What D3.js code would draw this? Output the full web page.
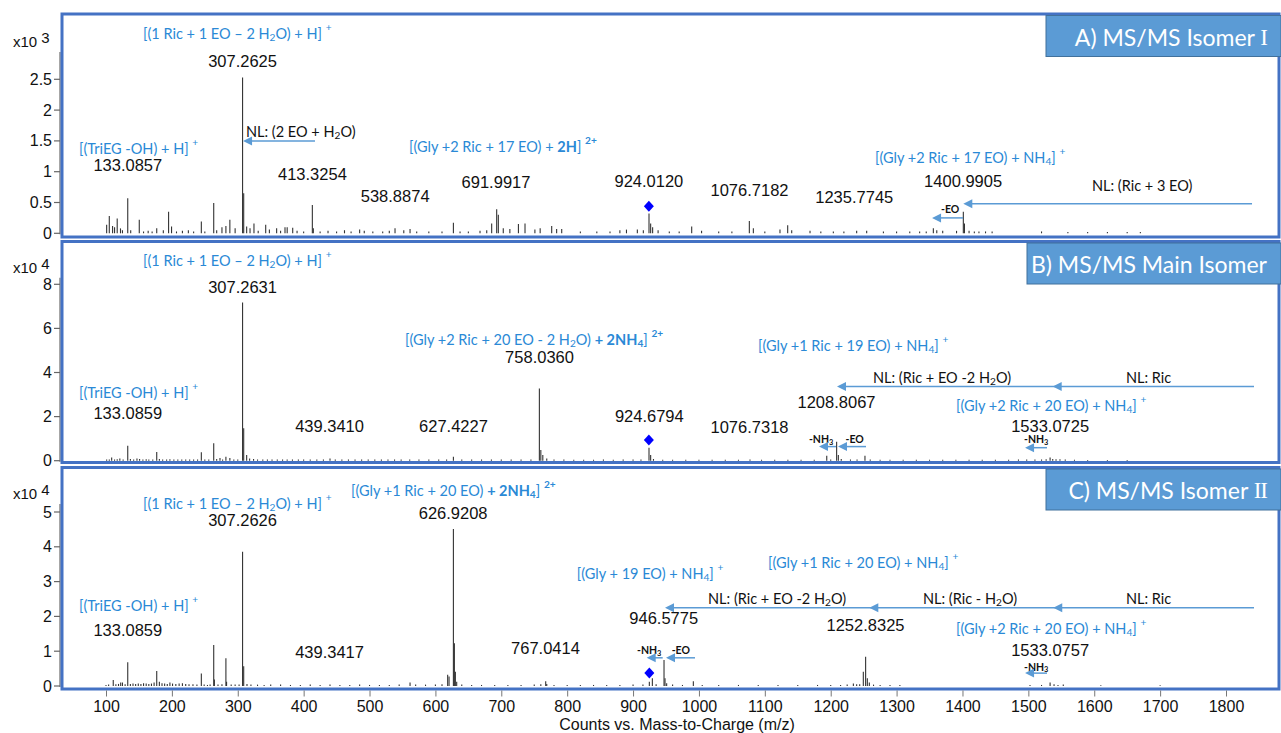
<!DOCTYPE html>
<html lang="en">
<head>
<meta charset="UTF-8">
<title>MS/MS spectra</title>
<script src="https://d3js.org/d3.v7.min.js"></script>
<style>
  body { margin: 0; background: #fff; }
  svg { display: block; }
</style>
</head>
<body>
<div id="chart"></div>
<script>
// peaks as [m/z, intensity]; A in x10^3 counts, B and C in x10^4 counts
const peaksA = [[101,0.14],[105,0.28],[110,0.12],[113,0.1],[117,0.24],[122,0.08],[125,0.05],[133,0.57],[137.5,0.05],[150.5,0.22],[157,0.03],[164,0.04],[170,0.03],[177,0.08],[187,0.05],[195,0.35],[199.5,0.11],[207,0.03],[216,0.04],[225,0.05],[233,0.03],[244.7,0.19],[250,0.03],[263.5,0.49],[268,0.05],[276,0.1],[282,0.12],[288,0.22],[296,0.08],[307.3,2.53],[309,0.65],[313.5,0.11],[318.6,0.08],[324.6,0.16],[331,0.04],[342.4,0.14],[348,0.06],[359,0.08],[365,0.04],[371.7,0.1],[375,0.1],[383.4,0.09],[390,0.04],[400,0.03],[413.2,0.46],[414.7,0.08],[425,0.03],[437,0.04],[450,0.03],[462,0.05],[472,0.03],[485,0.06],[492,0.04],[505,0.03],[520,0.03],[530,0.04],[538.7,0.08],[552,0.05],[561.5,0.07],[571.6,0.03],[590,0.03],[610,0.03],[627.3,0.17],[637.4,0.03],[650,0.03],[667.7,0.04],[677.9,0.05],[685.4,0.16],[693,0.39],[695.5,0.3],[703,0.08],[713,0.07],[726,0.15],[736,0.16],[751,0.06],[759,0.08],[776.5,0.12],[784,0.07],[791.7,0.07],[820,0.03],[845,0.03],[865,0.03],[880,0.05],[890,0.06],[906.5,0.06],[915.6,0.05],[924.2,0.32],[926.7,0.16],[929.7,0.1],[938,0.05],[955,0.03],[970,0.03],[989,0.11],[1004,0.04],[1030,0.03],[1050,0.03],[1076.5,0.2],[1082.6,0.08],[1100,0.03],[1123,0.06],[1134.7,0.13],[1140.8,0.05],[1168.6,0.04],[1185,0.03],[1204,0.03],[1220,0.03],[1239.4,0.04],[1254.6,0.04],[1280,0.03],[1300,0.03],[1320,0.03],[1335,0.03],[1345,0.03],[1355.8,0.08],[1361,0.05],[1370,0.04],[1391,0.04],[1401.3,0.35],[1403,0.16],[1410,0.04],[1418,0.03],[1425,0.03],[1435,0.03],[1445,0.03],[1520,0.03],[1560,0.02],[1590,0.02],[1620,0.02],[1650,0.02],[1670,0.02]];

const peaksB = [[101,0.05],[105,0.06],[108.6,0.14],[113,0.06],[117,0.07],[121,0.1],[126,0.05],[133,0.68],[137,0.08],[142,0.06],[147,0.1],[151,0.08],[156,0.06],[161,0.07],[165,0.05],[171,0.06],[177,0.4],[181,0.08],[186,0.06],[192,0.05],[197,0.07],[203,0.05],[209,0.06],[215,0.05],[221,0.06],[227,0.05],[233,0.06],[239,0.05],[244.7,0.38],[250,0.06],[256,0.05],[263.5,0.79],[268,0.08],[273,0.12],[277,0.06],[282,0.18],[288,0.12],[294,0.06],[300,0.05],[307.3,7.18],[309,1.47],[313.5,0.26],[318,0.1],[324,0.08],[330,0.06],[338,0.06],[345,0.05],[352,0.06],[360,0.05],[368,0.05],[375,0.06],[383,0.05],[392,0.05],[400,0.06],[410,0.05],[420,0.05],[430,0.06],[440,0.1],[448,0.05],[458,0.05],[468,0.05],[478,0.06],[488,0.05],[498,0.05],[508,0.05],[518,0.06],[528,0.05],[538,0.05],[548,0.05],[561,0.06],[575,0.05],[590,0.05],[605,0.05],[617,0.06],[627.3,0.18],[640,0.05],[655,0.05],[670,0.05],[685,0.05],[700,0.05],[715,0.05],[730,0.05],[745,0.06],[757.8,3.28],[760,0.48],[763,0.26],[769,0.1],[780,0.05],[795,0.05],[810,0.04],[825,0.04],[840,0.04],[855,0.05],[870,0.04],[885,0.05],[900,0.05],[912,0.06],[924.2,0.59],[926.7,0.26],[931,0.08],[945,0.04],[960,0.04],[980,0.04],[1000,0.04],[1020,0.04],[1040,0.04],[1060,0.04],[1077.5,0.05],[1095,0.04],[1115,0.04],[1135,0.04],[1155,0.04],[1175,0.04],[1194,0.23],[1200,0.05],[1209,0.86],[1211.6,0.26],[1216,0.08],[1230,0.05],[1240,0.05],[1252,0.23],[1260,0.05],[1275,0.04],[1290,0.04],[1310,0.04],[1330,0.04],[1350,0.04],[1370,0.04],[1390,0.04],[1410,0.04],[1430,0.04],[1450,0.04],[1470,0.04],[1485,0.05],[1497.5,0.06],[1510,0.05],[1520,0.06],[1527,0.07],[1533,0.14],[1537,0.08],[1542,0.07],[1548,0.07],[1556,0.05],[1570,0.04],[1590,0.03],[1620,0.03],[1650,0.03]];

const peaksC = [[100,0.03],[104,0.04],[111,0.17],[115,0.05],[119,0.06],[122.3,0.1],[125,0.1],[129,0.05],[133,0.68],[137,0.06],[141,0.07],[145,0.06],[149,0.07],[153,0.06],[157,0.08],[161,0.07],[165,0.06],[169,0.07],[173,0.1],[177,0.43],[181,0.12],[185,0.08],[189,0.07],[193,0.06],[197,0.1],[201,0.07],[206,0.06],[211,0.07],[216,0.08],[221,0.06],[226,0.05],[232,0.05],[238,0.04],[244.7,0.36],[249,0.04],[254,0.03],[258,0.04],[263.5,1.18],[264.5,0.19],[270,0.04],[276,0.05],[282,0.8],[283,0.12],[290,0.04],[296,0.04],[302,0.04],[307.3,3.86],[309,0.57],[314,0.06],[320,0.04],[330,0.04],[340,0.03],[350,0.04],[365,0.04],[380,0.03],[395,0.03],[410,0.04],[425,0.03],[440,0.04],[455,0.03],[470,0.03],[485,0.04],[500,0.03],[515,0.03],[530,0.03],[545,0.04],[561.5,0.1],[570,0.04],[585,0.04],[600,0.04],[610,0.05],[618.6,0.32],[620.7,0.27],[627.3,4.51],[628.8,1.23],[630.3,0.41],[632.3,0.12],[640,0.04],[655,0.03],[670,0.03],[690,0.03],[710,0.03],[730,0.03],[750,0.04],[760,0.05],[767.4,0.14],[769,0.06],[780,0.03],[800,0.03],[820,0.03],[840,0.03],[860,0.03],[880,0.03],[900,0.04],[915,0.04],[924.7,0.12],[929.3,0.22],[935,0.05],[947,0.75],[948.5,0.22],[951,0.08],[960,0.04],[975,0.03],[991.5,0.14],[1005,0.03],[1030,0.03],[1060,0.03],[1090,0.03],[1120,0.03],[1150,0.03],[1180,0.03],[1200,0.03],[1215,0.03],[1225,0.04],[1234.4,0.07],[1239.4,0.05],[1244,0.05],[1249.5,0.41],[1253,0.84],[1255.6,0.22],[1258.6,0.1],[1265,0.04],[1275,0.03],[1290,0.03],[1305,0.03],[1502.5,0.03],[1520,0.03],[1533,0.1],[1539,0.05],[1545,0.03],[1553,0.04],[1610,0.02],[1700,0.02]];

const xTicks = [100,200,300,400,500,600,700,800,900,1000,1100,1200,1300,1400,1500,1600,1700,1800];
const yTicksA = [0, 0.5, 1, 1.5, 2, 2.5];
const yTicksB = [0, 2, 4, 6, 8];
const yTicksC = [0, 1, 2, 3, 4, 5];
const exponents = [3, 4, 4];
// panel titles: [text, roman numeral]
const panelTitles = [["A) MS/MS Isomer ", "I"], ["B) MS/MS Main Isomer", ""], ["C) MS/MS Isomer ", "II"]];
const xTitle = "Counts vs. Mass-to-Charge (m/z)";

// peak m/z labels: [label, intensity where label sits]
const peakLabelsA = [["307.2625",2.80],["133.0857",1.11],["413.3254",0.96],["538.8874",0.61],["691.9917",0.83],["924.0120",0.85],["1076.7182",0.70],["1235.7745",0.59],["1400.9905",0.85]];
const peakLabelsB = [["307.2631",7.89],["133.0859",2.15],["439.3410",1.59],["627.4227",1.59],["758.0360",4.72],["924.6794",2.03],["1076.7318",1.52],["1208.8067",2.68],["1533.0725",1.59]];
const peakLabelsC = [["307.2626",4.77],["133.0859",1.61],["439.3417",0.97],["626.9208",4.96],["767.0414",1.08],["946.5775",1.95],["1252.8325",1.75],["1533.0757",1.03]];

// ion assignments (blue): [text, m/z at left edge, intensity]
const ionLabelsA = [["[(1 Ric + 1 EO \u2013 2 H_{2}O) + H] ^{+}",156.2,3.25],["[(TriEG -OH) + H] ^{+}",59,1.385],["[(Gly +2 Ric + 17 EO) + *{2H}] *^{2+}",560,1.42],["[(Gly +2 Ric + 17 EO) + NH_{4}] ^{+}",1267.3,1.24]];
const ionLabelsB = [["[(1 Ric + 1 EO \u2013 2 H_{2}O) + H] ^{+}",156.2,9.10],["[(TriEG -OH) + H] ^{+}",59,3.13],["[(Gly +2 Ric + 20 EO - 2 H_{2}O) *{+ 2NH}*_{4}] *^{2+}",553.9,5.52],["[(Gly +1 Ric + 19 EO) + NH_{4}] ^{+}",1089.7,5.25],["[(Gly +2 Ric + 20 EO) + NH_{4}] ^{+}",1390.2,2.53]];
const ionLabelsC = [["[(1 Ric + 1 EO \u2013 2 H_{2}O) + H] ^{+}",156.2,5.25],["[(TriEG -OH) + H] ^{+}",59,2.33],["[(Gly +1 Ric + 20 EO) *{+ 2NH}*_{4}] *^{2+}",471.9,5.63],["[(Gly + 19 EO) + NH_{4}] ^{+}",814.5,3.24],["[(Gly +1 Ric + 20 EO) + NH_{4}] ^{+}",1104.8,3.57],["[(Gly +2 Ric + 20 EO) + NH_{4}] ^{+}",1390.2,1.66]];

// neutral losses (black): [text, m/z at left edge, intensity, small bold]
const lossLabelsA = [["NL: (2 EO + H_{2}O)",312.5,1.66,false],["NL: (Ric + 3 EO)",1596.6,0.78,false],["-EO",1367.4,0.40,true]];
const lossLabelsB = [["NL: (Ric + EO -2 H_{2}O)",1264.2,3.81,false],["NL: Ric",1648.2,3.81,false],["-NH_{3}",1167,0.98,true],["-EO",1222.5,0.98,true],["-NH_{3}",1493.4,0.98,true]];
const lossLabelsC = [["NL: (Ric + EO -2 H_{2}O)",1013.8,2.52,false],["NL: (Ric - H_{2}O)",1340.1,2.54,false],["NL: Ric",1648.2,2.54,false],["-NH_{3}",906,1.03,true],["-EO",958.6,1.03,true],["-NH_{3}",1493.4,0.56,true]];

// arrows: [from m/z, to m/z, intensity, arrowhead m/z list]
const arrowsA = [[417.2,308,1.50,[308]],[1839.5,1401.3,0.48,[1401.3]],[1400.9,1353.8,0.25,[1353.8]]];
const arrowsB = [[1842.5,1209.6,3.36,[1209.6,1536.9]],[1208,1182.2,0.64,[1182.2]],[1253.6,1211.1,0.64,[1211.1]],[1528.3,1495,0.59,[1495]]];
const arrowsC = [[1842.5,948.5,2.25,[948.5,1258.6,1537.8]],[945,920.7,0.81,[920.7]],[994,950,0.81,[950]],[1528.3,1495,0.37,[1495]]];

// precursor markers: [m/z, intensity]
const markersA = [[924.0, 0.44]];
const markersB = [[924.0, 0.94]];
const markersC = [[924.7, 0.37]];

const W = 1281, H = 733;
const BLUE_TXT = "#2a89d6", BLUE_ARROW = "#5b9bd5", FRAME = "#4472c4";
const SANS = "'Liberation Sans', Arial, sans-serif";
const CAL = "Lato, 'Open Sans', sans-serif";

const svg = d3.select("#chart").append("svg").attr("width", W).attr("height", H);

const x = d3.scaleLinear().domain([100, 1800]).range([106, 1226]);

const panels = [
  { peaks: peaksA, ticks: yTicksA, top: 14, bottom: 237, range: [233.3, 79.3], axisTop: 52, titleX: 1046,
    peakLabels: peakLabelsA, ions: ionLabelsA, losses: lossLabelsA, arrows: arrowsA, markers: markersA },
  { peaks: peaksB, ticks: yTicksB, top: 241.5, bottom: 462.5, range: [460.7, 284.3], axisTop: 277.7, titleX: 1027,
    peakLabels: peakLabelsB, ions: ionLabelsB, losses: lossLabelsB, arrows: arrowsB, markers: markersB },
  { peaks: peaksC, ticks: yTicksC, top: 467.5, bottom: 689, range: [686, 512], axisTop: 504, titleX: 1046,
    peakLabels: peakLabelsC, ions: ionLabelsC, losses: lossLabelsC, arrows: arrowsC, markers: markersC }
];

// tiny markup: _{sub} ^{sup} *{bold} *_{bold sub} *^{bold sup}
function rich(textSel, str, fs) {
  const re = /(\*?[_^]\{[^}]*\}|\*\{[^}]*\}|[^*_^]+)/g;
  let m, shift = 0;
  while ((m = re.exec(str))) {
    let tok = m[0], bold = false, target = 0, small = false;
    if (tok[0] === "*") { bold = true; tok = tok.slice(1); }
    if (tok[0] === "_") { target = 0.28 * fs; small = true; }
    else if (tok[0] === "^") { target = -0.42 * fs; small = true; }
    const txt = tok.replace(/^[_^]?\{/, "").replace(/\}$/, "");
    const ts = textSel.append("tspan").text(txt).attr("dy", target - shift);
    shift = target;
    if (bold) ts.attr("font-weight", "bold");
    if (small) ts.attr("font-size", fs * 0.7);
  }
}

panels.forEach((p, i) => {
  const y = d3.scaleLinear().domain([0, p.ticks[p.ticks.length - 1]]).range(p.range);
  const g = svg.append("g");
  const clipId = "clip" + i;
  svg.append("clipPath").attr("id", clipId).append("rect")
    .attr("x", 62).attr("y", p.top).attr("width", 1217).attr("height", p.bottom - p.top);

  // peaks
  g.append("g").attr("clip-path", `url(#${clipId})`)
    .selectAll("line").data(p.peaks).join("line")
    .attr("x1", d => x(d[0])).attr("x2", d => x(d[0]))
    .attr("y1", y(0)).attr("y2", d => y(d[1]))
    .attr("stroke", "#333").attr("stroke-width", 1.1);

  // y axis
  g.append("line").attr("x1", 60).attr("x2", 60).attr("y1", p.axisTop).attr("y2", y(0) + 1)
    .attr("stroke", "#a6a6a6").attr("stroke-width", 2);
  const ty = g.selectAll(".yt").data(p.ticks).join("g").attr("transform", d => `translate(0,${y(d)})`);
  ty.append("line").attr("x1", 54).attr("x2", 60).attr("stroke", "#666").attr("stroke-width", 1.2);
  ty.append("text").attr("x", 52).attr("text-anchor", "end").attr("dominant-baseline", "central")
    .attr("font-family", SANS).attr("font-size", 16).attr("fill", "#111").text(d => d);

  // exponent
  const ex = g.append("text").attr("x", 13).attr("y", p.axisTop - 11).attr("font-family", SANS)
    .attr("font-size", 15).attr("fill", "#111").attr("dominant-baseline", "central");
  ex.append("tspan").text("x10 ");
  ex.append("tspan").text(exponents[i]).attr("dy", -4);

  // frame
  g.append("rect").attr("x", 62).attr("y", p.top).attr("width", 1217).attr("height", p.bottom - p.top)
    .attr("fill", "none").attr("stroke", FRAME).attr("stroke-width", 3);

  // title box
  g.append("rect").attr("x", p.titleX).attr("y", p.top + 1.5).attr("width", W - p.titleX).attr("height", 41)
    .attr("fill", "#5b9bd5").attr("stroke", "#41719c").attr("stroke-width", 1);
  const tt = g.append("text").attr("x", W - 14).attr("y", p.top + 22.5).attr("text-anchor", "end")
    .attr("dominant-baseline", "central").attr("font-family", CAL).attr("font-size", 23)
    .attr("fill", "#fff");
  tt.append("tspan").text(panelTitles[i][0]);
  if (panelTitles[i][1]) {
    tt.append("tspan").text(panelTitles[i][1]).attr("font-family", "'Liberation Serif', serif")
      .attr("letter-spacing", -1);
  }

  // peak labels
  g.selectAll(".pl").data(p.peakLabels).join("text")
    .attr("x", d => x(+d[0])).attr("y", d => y(d[1])).attr("text-anchor", "middle")
    .attr("dominant-baseline", "central").attr("font-family", SANS).attr("font-size", 16.5)
    .attr("fill", "#111").text(d => d[0]);

  // ion labels
  p.ions.forEach(d => {
    const t = g.append("text").attr("x", x(d[1])).attr("y", y(d[2])).attr("dominant-baseline", "central")
      .attr("font-family", CAL).attr("font-size", 14.5).attr("fill", BLUE_TXT);
    rich(t, d[0], 14.5);
  });

  // loss labels
  p.losses.forEach(d => {
    const fs = d[3] ? 10.5 : 14.5;
    const t = g.append("text").attr("x", x(d[1])).attr("y", y(d[2])).attr("dominant-baseline", "central")
      .attr("font-family", CAL).attr("font-size", fs).attr("fill", "#111")
      .attr("font-weight", d[3] ? "bold" : "normal");
    rich(t, d[0], fs);
  });

  // arrows
  p.arrows.forEach(d => {
    const yy = y(d[2]);
    g.append("line").attr("x1", x(d[0])).attr("x2", x(d[1]) + 4).attr("y1", yy).attr("y2", yy)
      .attr("stroke", BLUE_ARROW).attr("stroke-width", 1.5);
    g.selectAll(null).data(d[3]).join("path")
      .attr("d", h => `M${x(h)},${yy}L${x(h) + 9},${yy - 4.5}L${x(h) + 9},${yy + 4.5}Z`)
      .attr("fill", BLUE_ARROW);
  });

  // precursor diamonds
  g.selectAll(".mk").data(p.markers).join("path")
    .attr("transform", d => `translate(${x(d[0])},${y(d[1])})`)
    .attr("d", "M0,-5.5L5,0L0,5.5L-5,0Z").attr("fill", "#0000ff");
});

// shared x axis
const xa = svg.append("g").attr("transform", "translate(0,690.5)")
  .call(d3.axisBottom(x).tickValues(xTicks).tickSize(6).tickPadding(4).tickFormat(d3.format("d")));
xa.select(".domain").remove();
xa.selectAll("line").attr("stroke", "#777");
xa.selectAll("text").attr("font-family", SANS).attr("font-size", 16).attr("fill", "#111");

svg.append("text").attr("x", 677).attr("y", 724).attr("text-anchor", "middle")
  .attr("dominant-baseline", "central").attr("font-family", SANS).attr("font-size", 16)
  .attr("fill", "#111").text(xTitle);
</script>
</body>
</html>
